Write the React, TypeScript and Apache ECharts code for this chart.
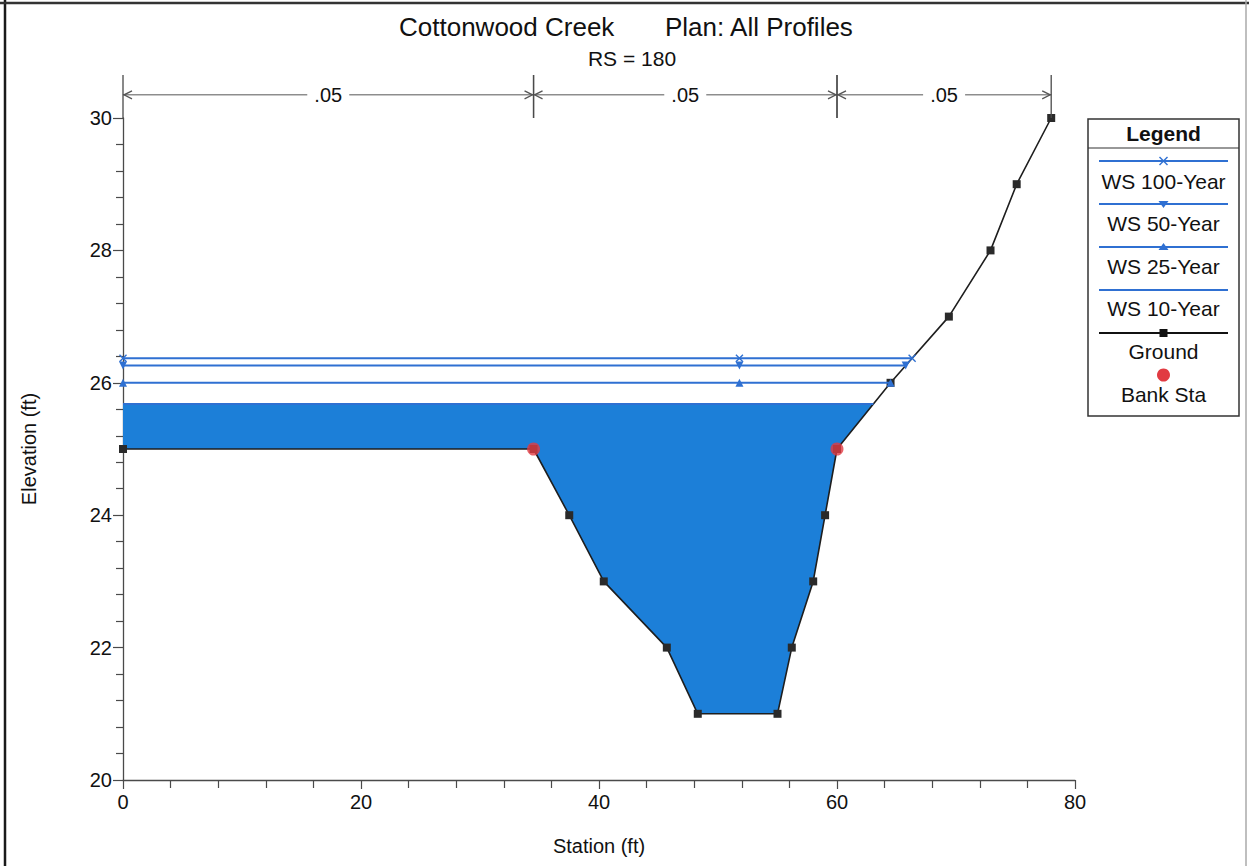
import React, { useEffect, useRef } from "react";
import * as echarts from "echarts";

// ---------- data ----------
const groundStations = [0, 34.5, 37.5, 40.4, 45.7, 48.3, 55.0, 56.2, 58.0, 59.0, 60.0, 64.5, 69.4, 72.9, 75.1, 78.0];
const groundElevations = [25, 25, 24, 23, 22, 21, 21, 22, 23, 24, 25, 26, 27, 28, 29, 30];

const bankStations = [34.5, 60.0];
const bankElevations = [25, 25];

const wsNames = ["WS 100-Year", "WS 50-Year", "WS 25-Year", "WS 10-Year"];
const wsElevations = [26.37, 26.26, 26.0, 25.68];
const wsMarkerStation = 51.8;

const nStations = [0, 34.5, 60, 78];
const nValues = [".05", ".05", ".05"];

const xTickInterval = 20;
const yTickInterval = 2;
const xMin = 0;
const xMax = 80;
const yMin = 20;
const yMax = 30;
const nLineElev = 30.35;
const nTopElev = 30.65;

// ---------- styles ----------
const FONT = "'Liberation Sans', Arial, sans-serif";
const WATER_FILL = "#1c7fd8";
const WS_LINE = "#2f70d2";
const AXIS_COLOR = "#4a4a4a";
const BANK_RED = "#e13b42";

const X_PATH = "path://M0,1.2L1.2,0L5,3.8L8.8,0L10,1.2L6.2,5L10,8.8L8.8,10L5,6.2L1.2,10L0,8.8L3.8,5Z";

function groundCrossing(elev: number): number {
  for (let i = 0; i < groundStations.length - 1; i++) {
    const e0 = groundElevations[i];
    const e1 = groundElevations[i + 1];
    if (e0 <= elev && e1 > elev) {
      return groundStations[i] + ((elev - e0) / (e1 - e0)) * (groundStations[i + 1] - groundStations[i]);
    }
  }
  return groundStations[groundStations.length - 1];
}

const wsSymbols: any[] = [
  { symbol: X_PATH, symbolSize: 8, symbolRotate: 0 },
  { symbol: "triangle", symbolSize: 8, symbolRotate: 180 },
  { symbol: "triangle", symbolSize: 8, symbolRotate: 0 },
  { symbol: "none", symbolSize: 0, symbolRotate: 0 },
];

function buildOption(): any {
  const groundData = groundStations.map((s, i) => [s, groundElevations[i]]);
  const bankData = bankStations.map((s, i) => [s, bankElevations[i]]);

  const waterFill = {
    type: "custom",
    name: "water",
    z: 1,
    silent: true,
    data: [[wsElevations[3]]],
    renderItem: (_p: any, api: any) => {
      const wl = api.value(0);
      const pts: number[][] = [[0, wl]];
      for (let i = 0; i < groundStations.length; i++) {
        if (groundElevations[i] <= wl) pts.push([groundStations[i], groundElevations[i]]);
        if (i < groundStations.length - 1 && groundElevations[i] <= wl && groundElevations[i + 1] > wl) {
          pts.push([groundCrossing(wl), wl]);
          break;
        }
      }
      return {
        type: "polygon",
        shape: { points: pts.map((p) => api.coord(p)) },
        style: { fill: WATER_FILL, stroke: "none" },
      };
    },
  };

  const wsSeries = wsNames.map((name, k) => {
    const wl = wsElevations[k];
    const end = groundCrossing(wl);
    const sym = wsSymbols[k];
    return {
      type: "line",
      name,
      z: 4,
      data: [
        [0, wl],
        [wsMarkerStation, wl],
        [end, wl],
      ],
      symbol: sym.symbol,
      symbolSize: sym.symbolSize,
      symbolRotate: sym.symbolRotate,
      showSymbol: sym.symbol !== "none",
      lineStyle: { color: WS_LINE, width: 2 },
      itemStyle: { color: WS_LINE },
      silent: true,
    };
  });

  const groundSeries = {
    type: "line",
    name: "Ground",
    z: 3,
    data: groundData,
    symbol: "rect",
    symbolSize: 8,
    lineStyle: { color: "#1e1e1e", width: 1.6 },
    itemStyle: { color: "#2a2a2a" },
    silent: true,
  };

  const bankSeries = {
    type: "scatter",
    name: "Bank Sta",
    z: 5,
    data: bankData,
    symbol: "circle",
    symbolSize: 13,
    itemStyle: { color: BANK_RED },
    silent: true,
  };

  const nSeries = {
    type: "custom",
    name: "n",
    z: 6,
    clip: false,
    silent: true,
    data: nValues.map((_v, i) => [nStations[i], nStations[i + 1]]),
    renderItem: (params: any, api: any) => {
      const x0 = api.value(0);
      const x1 = api.value(1);
      const pL = api.coord([x0, nLineElev]);
      const pR = api.coord([x1, nLineElev]);
      const top = api.coord([x0, nTopElev])[1];
      const bot = api.coord([x0, yMax])[1];
      const y = pL[1];
      const mid = (pL[0] + pR[0]) / 2;
      const gap = 21;
      const ls = { stroke: "#555", lineWidth: 1 };
      return {
        type: "group",
        children: [
          { type: "line", shape: { x1: pL[0], y1: y, x2: mid - gap, y2: y }, style: ls },
          { type: "line", shape: { x1: mid + gap, y1: y, x2: pR[0], y2: y }, style: ls },
          { type: "polyline", shape: { points: [[pL[0] + 9, y - 4], [pL[0] + 1, y], [pL[0] + 9, y + 4]] }, style: { ...ls, fill: "none", lineWidth: 1.3 } },
          { type: "polyline", shape: { points: [[pR[0] - 9, y - 4], [pR[0] - 1, y], [pR[0] - 9, y + 4]] }, style: { ...ls, fill: "none", lineWidth: 1.3 } },
          { type: "line", shape: { x1: pL[0], y1: top, x2: pL[0], y2: bot }, style: { stroke: AXIS_COLOR, lineWidth: 1.3 } },
          { type: "line", shape: { x1: pR[0], y1: top, x2: pR[0], y2: bot }, style: { stroke: AXIS_COLOR, lineWidth: 1.3 } },
          {
            type: "text",
            style: {
              text: nValues[params.dataIndex],
              x: mid,
              y: y,
              align: "center",
              verticalAlign: "middle",
              font: `20px ${FONT}`,
              fill: "#111",
            },
          },
        ],
      };
    },
  };

  // ---------- legend (drawn) ----------
  const lgX = 1088, lgY = 119, lgW = 151, lgH = 297;
  const cx = lgX + lgW / 2;
  const lx1 = 1099, lx2 = 1228;
  const textStyle = (t: string, y: number, bold = false) => ({
    type: "text",
    style: {
      text: t,
      x: cx,
      y,
      align: "center",
      verticalAlign: "middle",
      font: `${bold ? "bold " : ""}21px ${FONT}`,
      fill: "#111",
    },
  });
  const legendEls: any[] = [
    { type: "rect", shape: { x: lgX, y: lgY, width: lgW, height: lgH }, style: { fill: "#fff", stroke: "#333", lineWidth: 1.5 } },
    { type: "line", shape: { x1: lgX, y1: 148, x2: lgX + lgW, y2: 148 }, style: { stroke: "#333", lineWidth: 1.2 } },
    textStyle("Legend", 133, true),
    // WS 100
    { type: "line", shape: { x1: lx1, y1: 161, x2: lx2, y2: 161 }, style: { stroke: WS_LINE, lineWidth: 2 } },
    { type: "line", shape: { x1: cx - 4, y1: 157, x2: cx + 4, y2: 165 }, style: { stroke: WS_LINE, lineWidth: 1.5 } },
    { type: "line", shape: { x1: cx - 4, y1: 165, x2: cx + 4, y2: 157 }, style: { stroke: WS_LINE, lineWidth: 1.5 } },
    textStyle(wsNames[0], 181),
    // WS 50
    { type: "line", shape: { x1: lx1, y1: 204, x2: lx2, y2: 204 }, style: { stroke: WS_LINE, lineWidth: 2 } },
    { type: "polygon", shape: { points: [[cx - 5, 201], [cx + 5, 201], [cx, 208]] }, style: { fill: WS_LINE } },
    textStyle(wsNames[1], 223),
    // WS 25
    { type: "line", shape: { x1: lx1, y1: 247, x2: lx2, y2: 247 }, style: { stroke: WS_LINE, lineWidth: 2 } },
    { type: "polygon", shape: { points: [[cx - 5, 250], [cx + 5, 250], [cx, 243]] }, style: { fill: WS_LINE } },
    textStyle(wsNames[2], 266),
    // WS 10
    { type: "line", shape: { x1: lx1, y1: 290, x2: lx2, y2: 290 }, style: { stroke: WS_LINE, lineWidth: 2 } },
    textStyle(wsNames[3], 308),
    // Ground
    { type: "line", shape: { x1: lx1, y1: 333, x2: lx2, y2: 333 }, style: { stroke: "#111", lineWidth: 1.8 } },
    { type: "rect", shape: { x: cx - 4, y: 329, width: 8, height: 8 }, style: { fill: "#111" } },
    textStyle("Ground", 351),
    // Bank
    { type: "circle", shape: { cx: cx, cy: 375, r: 6.5 }, style: { fill: BANK_RED } },
    textStyle("Bank Sta", 394),
  ];

  const frameEls: any[] = [
    { type: "line", shape: { x1: 5, y1: 0, x2: 5, y2: 866 }, style: { stroke: "#1a1a1a", lineWidth: 2.5 } },
    { type: "line", shape: { x1: 0, y1: 3, x2: 1249, y2: 3 }, style: { stroke: "#333", lineWidth: 2.5 } },
    { type: "line", shape: { x1: 1246, y1: 0, x2: 1246, y2: 866 }, style: { stroke: "#aaa", lineWidth: 1.5 } },
  ];

  const titleEls: any[] = [
    { type: "text", style: { text: "Cottonwood Creek", x: 399, y: 27, align: "left", verticalAlign: "middle", font: `26px ${FONT}`, fill: "#111" } },
    { type: "text", style: { text: "Plan: All Profiles", x: 665, y: 27, align: "left", verticalAlign: "middle", font: `26px ${FONT}`, fill: "#111" } },
    { type: "text", style: { text: "RS = 180", x: 632, y: 58, align: "center", verticalAlign: "middle", font: `21px ${FONT}`, fill: "#111" } },
  ];

  return {
    animation: false,
    backgroundColor: "#ffffff",
    textStyle: { fontFamily: FONT },
    grid: { left: 123, right: 174, top: 118, bottom: 86, containLabel: false },
    xAxis: {
      type: "value",
      min: xMin,
      max: xMax,
      interval: xTickInterval,
      name: "Station (ft)",
      nameLocation: "middle",
      nameGap: 56,
      nameTextStyle: { fontSize: 20, color: "#111", fontFamily: FONT },
      axisLine: { show: true, onZero: false, lineStyle: { color: AXIS_COLOR, width: 1.3 } },
      axisTick: { show: true, inside: false, length: 9, lineStyle: { color: AXIS_COLOR, width: 1.2 } },
      minorTick: { show: true, splitNumber: 5, length: 8, lineStyle: { color: AXIS_COLOR, width: 1.2 } },
      splitLine: { show: false },
      axisLabel: { fontSize: 20, color: "#111", margin: 12, fontFamily: FONT },
    },
    yAxis: {
      type: "value",
      min: yMin,
      max: yMax,
      interval: yTickInterval,
      name: "Elevation (ft)",
      nameLocation: "middle",
      nameGap: 84,
      nameTextStyle: { fontSize: 20, color: "#111", fontFamily: FONT },
      axisLine: { show: true, onZero: false, lineStyle: { color: AXIS_COLOR, width: 1.3 } },
      axisTick: { show: true, inside: false, length: 10, lineStyle: { color: AXIS_COLOR, width: 1.2 } },
      minorTick: { show: true, splitNumber: 5, length: 7, lineStyle: { color: AXIS_COLOR, width: 1.2 } },
      splitLine: { show: false },
      axisLabel: { fontSize: 20, color: "#111", margin: 11, fontFamily: FONT },
    },
    graphic: [...frameEls, ...titleEls, ...legendEls],
    series: [waterFill, groundSeries, ...wsSeries, bankSeries, nSeries],
  };
}

export default function App() {
  const ref = useRef<HTMLDivElement>(null);
  useEffect(() => {
    document.body.style.margin = "0";
    const chart = echarts.init(ref.current as HTMLDivElement, null, { renderer: "svg" });
    chart.setOption(buildOption());
    return () => chart.dispose();
  }, []);
  return <div ref={ref} style={{ width: 1249, height: 866 }} />;
}
